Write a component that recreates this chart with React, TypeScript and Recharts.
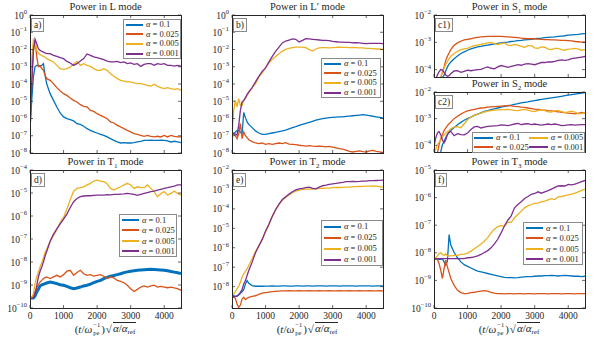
import { LineChart, Line, XAxis, YAxis } from 'recharts';

// time samples (t / w_pe^-1) * sqrt(alpha / alpha_ref)
const T = [0, 50, 100, 150, 200, 250, 300, 350, 400, 450, 500,
  600, 700, 800, 900, 1000, 1100, 1200, 1300, 1400, 1500,
  1600, 1700, 1800, 1900, 2000, 2100, 2200, 2300, 2400, 2500,
  2600, 2700, 2800, 2900, 3000, 3100, 3200, 3300, 3400, 3500,
  3600, 3700, 3800, 3900, 4000, 4100, 4200, 4300, 4400, 4500];

const ALPHAS = ['0.1', '0.025', '0.005', '0.001'];
const TIME_TICKS = [0, 1000, 2000, 3000, 4000];

// all powers below are log10 values
// a) L mode
const aBlue = [-6.6, -5.0, -3.6, -3.0, -2.92, -2.92, -2.95, -2.92, -2.82, -3.5, -4.0,
  -4.56, -4.95, -5.33, -5.68, -5.91, -6.01, -6.07, -6.14, -6.3, -6.34,
  -6.45, -6.59, -6.69, -6.78, -6.84, -6.92, -6.98, -7.07, -7.17, -7.27,
  -7.36, -7.42, -7.4, -7.42, -7.42, -7.4, -7.36, -7.32, -7.27, -7.27,
  -7.25, -7.27, -7.27, -7.25, -7.27, -7.3, -7.36, -7.32, -7.36, -7.4];
const aOrange = [-6.9, -4.0, -2.14, -1.45, -2.4, -3.0, -2.95, -3.1, -3.2, -3.5, -3.69,
  -3.79, -3.98, -4.21, -4.41, -4.56, -4.66, -4.81, -4.95, -5.04, -5.2,
  -5.3, -5.33, -5.53, -5.59, -5.72, -5.82, -5.91, -6.01, -6.2, -6.26,
  -6.4, -6.49, -6.59, -6.69, -6.78, -6.88, -6.92, -6.98, -7.03, -6.98,
  -7.03, -7.07, -7.03, -7.07, -6.98, -7.07, -6.98, -7.03, -7.07, -7.07];
const aYellow = [-4.75, -2.6, -1.45, -1.6, -2.05, -2.2, -2.3, -2.35, -2.4, -2.45, -2.53,
  -2.63, -2.72, -2.92, -3.11, -3.15, -3.11, -3.01, -2.86, -2.69, -2.92,
  -2.82, -2.92, -2.98, -3.11, -3.21, -3.21, -3.11, -3.21, -3.4, -3.55,
  -3.69, -3.79, -3.83, -3.88, -3.88, -3.94, -3.98, -3.98, -4.02, -4.08,
  -4.12, -4.02, -4.14, -4.21, -4.27, -4.21, -4.27, -4.31, -4.27, -4.37];
const aPurple = [-6.4, -4.0, -2.05, -1.4, -1.66, -1.95, -2.05, -2.1, -2.15, -2.2, -2.24,
  -2.24, -2.34, -2.4, -2.47, -2.53, -2.69, -2.78, -2.92, -2.82, -2.67,
  -2.53, -2.26, -2.34, -2.43, -2.47, -2.53, -2.59, -2.67, -2.72, -2.72,
  -2.69, -2.76, -2.72, -2.82, -2.78, -2.86, -2.82, -2.98, -2.86, -2.82,
  -2.82, -2.92, -2.82, -2.86, -2.82, -2.92, -2.92, -2.96, -2.92, -2.96];

// b) L' mode
const bBlue = [-6.88, -6.85, -6.8, -6.7, -6.69, -6.8, -6.88, -5.65, -5.95, -6.2, -6.34,
  -6.53, -6.72, -6.84, -6.92, -6.92, -6.88, -6.84, -6.8, -6.76, -6.72,
  -6.67, -6.6, -6.53, -6.47, -6.4, -6.34, -6.28, -6.22, -6.16, -6.1,
  -6.05, -6.01, -5.98, -5.95, -5.93, -5.92, -5.91, -5.9, -5.88, -5.86,
  -5.84, -5.82, -5.8, -5.78, -5.8, -5.83, -5.87, -5.9, -5.93, -5.96];
const bOrange = [-6.88, -6.92, -7.0, -7.17, -6.9, -6.3, -7.17, -6.78, -7.0, -7.11, -7.23,
  -7.34, -7.42, -7.46, -7.42, -7.5, -7.46, -7.5, -7.46, -7.42, -7.46,
  -7.4, -7.48, -7.5, -7.52, -7.55, -7.57, -7.6, -7.57, -7.6, -7.62,
  -7.6, -7.62, -7.65, -7.62, -7.66, -7.7, -7.75, -7.78, -7.83, -7.9,
  -7.94, -7.9, -7.88, -7.92, -7.94, -7.88, -7.85, -7.9, -7.94, -7.96];
const bYellow = [-6.88, -5.53, -4.95, -5.33, -4.85, -5.24, -5.24, -4.95, -4.85, -4.66, -4.52,
  -4.21, -3.98, -3.59, -3.36, -3.07, -2.78, -2.57, -2.4, -2.24, -2.09,
  -1.99, -1.93, -1.89, -1.86, -1.86, -1.86, -1.89, -2.01, -2.09, -1.97,
  -1.91, -1.89, -1.89, -1.91, -1.89, -1.88, -1.86, -1.88, -1.88, -1.89,
  -1.88, -1.89, -1.91, -1.91, -1.93, -1.93, -1.95, -1.97, -1.97, -2.0];
const bPurple = [-6.88, -6.88, -6.9, -6.97, -6.4, -5.53, -5.04, -4.95, -4.79, -4.6, -4.46,
  -4.21, -3.88, -3.56, -3.27, -3.07, -2.72, -2.4, -2.11, -1.86, -1.62,
  -1.51, -1.45, -1.39, -1.41, -1.57, -1.47, -1.37, -1.39, -1.41, -1.43,
  -1.45, -1.47, -1.47, -1.49, -1.53, -1.55, -1.57, -1.57, -1.59, -1.59,
  -1.61, -1.61, -1.62, -1.64, -1.66, -1.64, -1.64, -1.64, -1.64, -1.66];

// c1) S1 mode
const c1Blue = [-5.2, -5.0, -4.8, -4.6, -4.45, -4.3, -4.2, -4.05, -3.9, -3.8, -3.72,
  -3.6, -3.5, -3.41, -3.35, -3.29, -3.24, -3.2, -3.17, -3.15, -3.12,
  -3.1, -3.08, -3.06, -3.04, -3.02, -3.0, -2.99, -2.97, -2.96, -2.94,
  -2.93, -2.91, -2.9, -2.89, -2.87, -2.86, -2.85, -2.83, -2.82, -2.81,
  -2.8, -2.78, -2.77, -2.76, -2.74, -2.73, -2.72, -2.71, -2.69, -2.68];
const c1Orange = [-5.0, -4.8, -4.6, -4.45, -4.3, -4.1, -3.9, -3.66, -3.51, -3.39, -3.27,
  -3.11, -3.02, -2.96, -2.91, -2.89, -2.87, -2.84, -2.82, -2.8, -2.79,
  -2.78, -2.78, -2.78, -2.78, -2.78, -2.79, -2.8, -2.81, -2.82, -2.83,
  -2.85, -2.86, -2.87, -2.87, -2.87, -2.88, -2.89, -2.9, -2.9, -2.91,
  -2.91, -2.92, -2.93, -2.93, -2.94, -2.95, -2.97, -2.98, -2.99, -2.99];
const c1Yellow = [-5.0, -4.8, -4.6, -4.4, -4.25, -4.1, -3.96, -3.8, -3.7, -3.6, -3.51,
  -3.41, -3.33, -3.27, -3.24, -3.22, -3.17, -3.12, -3.1, -3.08, -3.05,
  -3.02, -3.0, -3.05, -3.08, -3.05, -3.02, -3.1, -3.12, -3.08, -3.1,
  -3.15, -3.18, -3.12, -3.12, -3.2, -3.22, -3.17, -3.18, -3.25, -3.27,
  -3.22, -3.22, -3.27, -3.29, -3.25, -3.24, -3.22, -3.25, -3.29, -3.27];
const c1Purple = [-4.6, -4.35, -4.2, -4.08, -4.0, -4.02, -4.1, -4.2, -4.24, -4.22, -4.15,
  -4.05, -4.04, -4.1, -4.06, -4.02, -4.04, -4.02, -4.0, -3.99, -3.94,
  -3.9, -3.95, -3.97, -3.9, -3.85, -3.88, -3.92, -3.88, -3.85, -3.82,
  -3.84, -3.8, -3.78, -3.8, -3.82, -3.78, -3.74, -3.74, -3.72, -3.72,
  -3.7, -3.66, -3.64, -3.66, -3.64, -3.6, -3.58, -3.56, -3.54, -3.52];

// c2) S2 mode
const c2Blue = [-5.0, -4.8, -4.6, -4.35, -4.25, -3.98, -3.85, -3.71, -3.6, -3.51, -3.44,
  -3.33, -3.23, -3.14, -3.06, -3.0, -2.94, -2.88, -2.83, -2.78, -2.73,
  -2.7, -2.66, -2.63, -2.6, -2.57, -2.54, -2.51, -2.49, -2.46, -2.44,
  -2.41, -2.39, -2.37, -2.34, -2.32, -2.3, -2.28, -2.26, -2.24, -2.22,
  -2.2, -2.18, -2.16, -2.14, -2.12, -2.1, -2.08, -2.06, -2.04, -2.02];
const c2Orange = [-4.8, -4.5, -4.3, -3.98, -3.76, -3.6, -3.45, -3.35, -3.26, -3.19, -3.13,
  -3.0, -2.91, -2.83, -2.76, -2.71, -2.68, -2.65, -2.62, -2.6, -2.59,
  -2.57, -2.56, -2.55, -2.54, -2.53, -2.52, -2.51, -2.52, -2.54, -2.55,
  -2.57, -2.58, -2.6, -2.62, -2.64, -2.65, -2.67, -2.68, -2.7, -2.71,
  -2.73, -2.74, -2.76, -2.77, -2.79, -2.8, -2.82, -2.8, -2.77, -2.79];
const c2Yellow = [-4.3, -4.15, -3.98, -3.89, -3.79, -3.69, -3.61, -3.55, -3.49, -3.44, -3.38,
  -3.31, -3.3, -3.34, -3.19, -3.04, -2.94, -2.88, -2.83, -2.79, -2.75,
  -2.72, -2.7, -2.68, -2.67, -2.66, -2.66, -2.65, -2.67, -2.69, -2.7,
  -2.67, -2.65, -2.68, -2.72, -2.73, -2.69, -2.67, -2.7, -2.74, -2.75,
  -2.71, -2.7, -2.74, -2.77, -2.75, -2.72, -2.75, -2.82, -2.8, -2.78];
const c2Purple = [-4.04, -3.73, -3.54, -3.48, -3.6, -3.79, -3.91, -3.79, -3.6, -3.51, -3.48,
  -3.64, -3.56, -3.6, -3.61, -3.54, -3.41, -3.31, -3.29, -3.35, -3.32,
  -3.29, -3.28, -3.27, -3.26, -3.23, -3.24, -3.26, -3.23, -3.2, -3.18,
  -3.22, -3.2, -3.19, -3.22, -3.2, -3.22, -3.24, -3.22, -3.2, -3.22,
  -3.2, -3.22, -3.26, -3.25, -3.23, -3.22, -3.24, -3.23, -3.22, -3.22];

// d) T1 mode
const dBlue = [-9.57, -9.57, -9.57, -9.48, -9.3, -9.19, -9.04, -8.99, -8.97, -8.94, -8.91,
  -8.87, -8.9, -8.94, -8.99, -9.01, -9.06, -9.12, -9.16, -9.13, -9.09,
  -9.04, -9.01, -8.96, -8.9, -8.84, -8.8, -8.72, -8.67, -8.62, -8.59,
  -8.55, -8.51, -8.46, -8.43, -8.4, -8.38, -8.36, -8.35, -8.34, -8.33,
  -8.32, -8.33, -8.34, -8.35, -8.36, -8.38, -8.41, -8.44, -8.47, -8.5];
const dOrange = [-9.57, -9.57, -9.48, -9.31, -9.13, -8.99, -8.87, -8.8, -8.72, -8.68, -8.65,
  -8.72, -8.65, -8.58, -8.65, -8.55, -8.4, -8.36, -8.58, -8.46, -8.36,
  -8.51, -8.58, -8.55, -8.61, -8.58, -8.55, -8.62, -8.72, -8.65, -8.69,
  -8.8, -8.84, -8.9, -9.01, -9.16, -9.28, -9.19, -9.09, -9.04, -9.09,
  -9.04, -9.01, -9.09, -9.06, -9.09, -9.12, -9.09, -9.13, -9.16, -9.23];
const dYellow = [-9.57, -9.57, -9.38, -8.94, -8.65, -8.43, -8.22, -8.03, -7.82, -7.59, -7.44,
  -7.1, -6.86, -6.59, -6.28, -6.06, -5.7, -5.28, -4.92, -4.8, -4.77,
  -4.73, -4.65, -4.58, -4.48, -4.44, -4.48, -4.51, -4.6, -4.8, -4.87,
  -4.8, -4.73, -4.65, -4.58, -4.65, -4.8, -4.73, -4.77, -4.77, -4.65,
  -4.8, -4.94, -5.16, -5.02, -4.94, -5.09, -5.02, -4.92, -5.02, -5.09];
const dPurple = [-9.57, -9.57, -9.55, -9.38, -9.04, -8.65, -8.4, -8.22, -8.0, -7.74, -7.53,
  -7.1, -6.79, -6.56, -6.34, -6.14, -5.92, -5.63, -5.38, -5.24, -5.16,
  -5.13, -5.12, -5.12, -5.1, -5.09, -5.09, -5.09, -5.07, -5.08, -5.06,
  -5.06, -5.05, -5.04, -5.02, -5.04, -5.06, -5.1, -5.06, -5.02, -4.98,
  -4.94, -4.92, -4.88, -4.84, -4.8, -4.77, -4.73, -4.7, -4.65, -4.65];

// e) T2 mode
const eBlue = [-8.47, -8.47, -8.5, -8.5, -8.43, -8.34, -8.26, -8.16, -7.86, -7.69, -7.83,
  -7.95, -7.98, -7.98, -7.98, -7.97, -7.97, -7.96, -7.97, -7.97, -7.96,
  -7.96, -7.97, -7.97, -7.96, -7.96, -7.97, -7.96, -7.96, -7.97, -7.96,
  -7.96, -7.96, -7.97, -7.96, -7.96, -7.96, -7.97, -7.96, -7.96, -7.96,
  -7.96, -7.97, -7.96, -7.96, -7.96, -7.96, -7.97, -7.96, -7.96, -7.96];
const eOrange = [-8.52, -8.55, -8.6, -8.9, -9.07, -8.95, -8.64, -8.55, -8.67, -8.6, -8.55,
  -8.5, -8.47, -8.4, -8.34, -8.31, -8.28, -8.26, -8.24, -8.23, -8.22,
  -8.22, -8.21, -8.22, -8.22, -8.21, -8.22, -8.22, -8.21, -8.22, -8.22,
  -8.21, -8.22, -8.22, -8.21, -8.22, -8.22, -8.21, -8.22, -8.22, -8.21,
  -8.22, -8.22, -8.21, -8.22, -8.22, -8.21, -8.22, -8.22, -8.21, -8.22];
const eYellow = [-8.47, -8.38, -8.26, -8.12, -7.98, -7.78, -7.52, -7.34, -7.22, -7.09, -6.91,
  -6.57, -6.19, -5.88, -5.57, -5.19, -4.81, -4.41, -4.07, -3.78, -3.55,
  -3.41, -3.29, -3.17, -3.09, -3.03, -3.0, -2.98, -2.98, -2.98, -2.97,
  -2.95, -2.94, -2.93, -2.93, -2.91, -2.9, -2.9, -2.89, -2.88, -2.88,
  -2.86, -2.86, -2.85, -2.84, -2.83, -2.83, -2.82, -2.83, -2.85, -2.88];
const ePurple = [-8.52, -8.52, -8.5, -8.47, -8.41, -8.29, -8.16, -7.86, -7.69, -7.43, -7.17,
  -6.74, -6.26, -5.91, -5.57, -5.14, -4.79, -4.38, -4.03, -3.76, -3.52,
  -3.38, -3.24, -3.12, -3.02, -2.97, -2.95, -2.91, -2.88, -2.95, -2.97,
  -2.88, -2.81, -2.78, -2.74, -2.71, -2.69, -2.66, -2.64, -2.6, -2.6,
  -2.59, -2.6, -2.59, -2.57, -2.57, -2.55, -2.55, -2.54, -2.53, -2.52];

// f) T3 mode
const fBlue = [-8.21, -8.23, -8.24, -8.23, -8.24, -8.22, -8.33, -8.45, -8.3, -7.34, -7.72,
  -7.99, -8.18, -8.33, -8.43, -8.49, -8.55, -8.61, -8.66, -8.69, -8.72,
  -8.75, -8.78, -8.81, -8.84, -8.86, -8.89, -8.9, -8.9, -8.91, -8.9,
  -8.88, -8.87, -8.86, -8.86, -8.85, -8.84, -8.84, -8.83, -8.83, -8.82,
  -8.83, -8.84, -8.83, -8.82, -8.83, -8.84, -8.85, -8.85, -8.86, -8.85];
const fOrange = [-8.21, -8.23, -8.23, -8.39, -8.63, -8.93, -8.57, -8.27, -8.51, -8.72, -8.93,
  -9.18, -9.36, -9.44, -9.48, -9.47, -9.44, -9.43, -9.41, -9.39, -9.37,
  -9.39, -9.43, -9.46, -9.48, -9.48, -9.49, -9.48, -9.48, -9.49, -9.48,
  -9.48, -9.49, -9.48, -9.48, -9.49, -9.48, -9.48, -9.48, -9.49, -9.48,
  -9.48, -9.48, -9.49, -9.48, -9.48, -9.48, -9.49, -9.48, -9.48, -9.48];
const fYellow = [-8.21, -8.18, -8.11, -8.03, -7.99, -8.06, -8.09, -8.04, -8.11, -8.11, -8.11,
  -8.09, -8.09, -8.06, -8.05, -8.01, -7.94, -7.85, -7.77, -7.68, -7.58,
  -7.45, -7.28, -7.15, -7.05, -7.01, -7.05, -6.89, -6.9, -6.73, -6.61,
  -6.49, -6.37, -6.3, -6.25, -6.21, -6.2, -6.15, -6.13, -6.08, -6.04,
  -6.07, -5.97, -5.96, -5.93, -5.9, -5.87, -5.84, -5.79, -5.74, -5.69];
const fPurple = [-8.21, -8.21, -8.21, -8.21, -8.21, -8.21, -8.21, -8.21, -8.21, -8.21, -8.21,
  -8.21, -8.21, -8.21, -8.21, -8.18, -8.17, -8.15, -8.11, -8.06, -7.99,
  -7.92, -7.82, -7.68, -7.51, -7.28, -7.02, -6.82, -6.66, -6.37, -6.25,
  -6.15, -6.03, -5.96, -5.88, -5.85, -5.79, -5.84, -5.79, -5.75, -5.69,
  -5.63, -5.58, -5.57, -5.58, -5.52, -5.54, -5.51, -5.47, -5.42, -5.38];

const COLORS = ['#0072BD', '#D95319', '#EDB120', '#7E2F8E'];
const AX = '#262626';
const FONT = '"Liberation Serif", "DejaVu Serif", serif';
const ML = 34;
const MB = 20;
const MT = 9;

const decades = (lo: number, hi: number) => {
  const out: number[] = [];
  for (let v = lo; v <= hi; v++) out.push(v);
  return out;
};

const sub = (s: string) => <sub style={{ fontSize: 7, lineHeight: 0 }}>{s}</sub>;

const PANELS = [
  { id: 'a)', title: <>Power in L mode</>, left: 30, top: 15, w: 151, h: 138, domain: [-8, 0], ticks: decades(-8, 0), series: [aBlue, aOrange, aYellow, aPurple], showX: false,
    legend: { left: 123, top: 19, width: 58, rowH: 9.6, cols: 1 } },
  { id: 'b)', title: <>Power in L′ mode</>, left: 232, top: 15, w: 151, h: 138, domain: [-8, 0], ticks: decades(-8, 0), series: [bBlue, bOrange, bYellow, bPurple], showX: false,
    legend: { left: 321, top: 58, width: 60, rowH: 9.6, cols: 1 } },
  { id: 'c1)', title: <>Power in S{sub('1')} mode</>, left: 434, top: 15, w: 151, h: 62, domain: [-4.27, -2], ticks: decades(-4, -2), series: [c1Blue, c1Orange, c1Yellow, c1Purple], showX: false,
    legend: null },
  { id: 'c2)', title: <>Power in S{sub('2')} mode</>, left: 434, top: 92, w: 151, h: 60, domain: [-4.25, -2], ticks: decades(-4, -2), series: [c2Blue, c2Orange, c2Yellow, c2Purple], showX: false,
    legend: { left: 472, top: 132, width: 113, rowH: 9.5, cols: 2 } },
  { id: 'd)', title: <>Power in T{sub('1')} mode</>, left: 30, top: 170, w: 151, h: 138, domain: [-10, -4], ticks: decades(-10, -4), series: [dBlue, dOrange, dYellow, dPurple], showX: true,
    legend: { left: 119, top: 214, width: 58, rowH: 10.3, cols: 1 } },
  { id: 'e)', title: <>Power in T{sub('2')} mode</>, left: 232, top: 170, w: 151, h: 138, domain: [-9.1, -2], ticks: decades(-8, -2), series: [eBlue, eOrange, eYellow, ePurple], showX: true,
    legend: { left: 321, top: 220, width: 62, rowH: 11, cols: 1 } },
  { id: 'f)', title: <>Power in T{sub('3')} mode</>, left: 434, top: 170, w: 151, h: 138, domain: [-10, -5], ticks: decades(-10, -5), series: [fBlue, fOrange, fYellow, fPurple], showX: true,
    legend: { left: 523, top: 222, width: 60, rowH: 10.3, cols: 1 } },
];

function YTick(props: any) {
  const { x, y, payload, plotW } = props;
  const v = payload.value as number;
  const exp = v === 0 ? '0' : '\u2212' + Math.abs(v);
  return (
    <g>
      <line x1={x} x2={x + 3} y1={y} y2={y} stroke={AX} strokeWidth={0.7} />
      <line x1={x + plotW} x2={x + plotW - 3} y1={y} y2={y} stroke={AX} strokeWidth={0.7} />
      <text x={x - 3} y={y + 3.5} textAnchor="end" fontFamily={FONT} fontSize={9.5} fill={AX}>
        10<tspan dy={-4.5} fontSize={6.5}>{exp}</tspan>
      </text>
    </g>
  );
}

function XTick(props: any) {
  const { x, y, payload, plotH, showLabel } = props;
  return (
    <g>
      <line x1={x} x2={x} y1={y} y2={y - 3} stroke={AX} strokeWidth={0.7} />
      <line x1={x} x2={x} y1={y - plotH} y2={y - plotH + 3} stroke={AX} strokeWidth={0.7} />
      {showLabel && (
        <text x={x} y={y + 11} textAnchor="middle" fontFamily={FONT} fontSize={9.5} fill={AX}>
          {payload.value}
        </text>
      )}
    </g>
  );
}

function LegendBox({ left, top, width, rowH, cols }: any) {
  const order = cols === 2 ? [0, 2, 1, 3] : [0, 1, 2, 3];
  return (
    <div
      style={{
        position: 'absolute', left, top, width, boxSizing: 'border-box',
        border: '1px solid #8a8a8a', background: '#fff', padding: cols === 2 ? '0 1px' : '0 2px',
        display: 'grid', gridTemplateColumns: cols === 2 ? '1fr 1fr' : '1fr',
        fontSize: 8.5, lineHeight: `${rowH}px`, color: AX,
      }}
    >
      {order.map((i) => (
        <div key={i} style={{ display: 'flex', alignItems: 'center', whiteSpace: 'nowrap' }}>
          <span style={{ display: 'inline-block', width: cols === 2 ? 19 : 17, height: 2, background: COLORS[i], marginRight: 3 }} />
          <span><i>α</i> = {ALPHAS[i]}</span>
        </div>
      ))}
    </div>
  );
}

function XLabel({ cx }: { cx: number }) {
  return (
    <div style={{ position: 'absolute', left: cx - 60, width: 120, top: 321, display: 'flex', justifyContent: 'center', alignItems: 'center', fontSize: 11, lineHeight: '14px', whiteSpace: 'nowrap', color: AX }}>
      <span>(<i>t</i>/<i>ω</i></span>
      <span style={{ display: 'inline-flex', flexDirection: 'column', fontSize: 6.5, lineHeight: '7.5px', margin: '0 1px' }}>
        <span>−1</span>
        <span>pe</span>
      </span>
      <span>)</span>
      <span style={{ marginLeft: 1, marginRight: 1 }}>√</span>
      <span style={{ display: 'inline-block', borderTop: `1px solid ${AX}`, lineHeight: '11px', paddingRight: 1 }}>
        <i>α</i>/<i>α</i><span style={{ fontSize: 7, position: 'relative', top: 2 }}>ref</span>
      </span>
    </div>
  );
}

function Panel({ p }: { p: (typeof PANELS)[number] }) {
  const data = T.map((t, i) => ({ t, s0: p.series[0][i], s1: p.series[1][i], s2: p.series[2][i], s3: p.series[3][i] }));
  const cw = p.w + ML + 4;
  const ch = p.h + MB + MT;
  return (
    <>
      <div style={{ position: 'absolute', left: p.left + p.w / 2 - 70, width: 140, top: p.top - 15, textAlign: 'center', fontSize: 10.5, lineHeight: '14px', color: AX }}>
        {p.title}
      </div>
      <div style={{ position: 'absolute', left: p.left - ML, top: p.top - MT }}>
        <LineChart width={cw} height={ch} data={data} margin={{ top: MT, right: 4, bottom: 0, left: 0 }}>
          <XAxis
            type="number" dataKey="t" domain={[0, 4500]} ticks={TIME_TICKS} interval={0} allowDataOverflow
            height={MB} axisLine={false} tickLine={false} tickSize={0} tickMargin={0}
            tick={(tp: any) => <XTick {...tp} plotH={p.h} showLabel={p.showX} />}
          />
          <YAxis
            type="number" domain={p.domain} ticks={p.ticks} interval={0} allowDataOverflow
            width={ML} axisLine={false} tickLine={false} tickSize={0} tickMargin={0}
            tick={(tp: any) => <YTick {...tp} plotW={p.w} />}
          />
          {[0, 1, 2, 3].map((k) => (
            <Line
              key={k} type="linear" dataKey={`s${k}`} stroke={COLORS[k]}
              strokeWidth={p.id === 'd)' && k === 0 ? 3 : 1.3}
              dot={false} activeDot={false} isAnimationActive={false}
            />
          ))}
        </LineChart>
      </div>
      <div style={{ position: 'absolute', left: p.left, top: p.top, width: p.w + 1, height: p.h + 1, boxSizing: 'border-box', border: `1px solid ${AX}`, pointerEvents: 'none' }} />
      <div style={{ position: 'absolute', left: p.left + 1, top: p.top + 3, padding: '0 2px', border: '1px solid #8a8a8a', background: '#fff', fontSize: 9.5, lineHeight: '12px', color: AX }}>
        {p.id}
      </div>
      {p.legend && <LegendBox {...p.legend} />}
      {p.showX && <XLabel cx={p.left + p.w / 2} />}
    </>
  );
}

export default function App() {
  return (
    <div style={{ position: 'absolute', left: 0, top: 0, width: 598, height: 339, background: '#fff', fontFamily: FONT, overflow: 'hidden' }}>
      {PANELS.map((p) => (
        <Panel key={p.id} p={p} />
      ))}
    </div>
  );
}
